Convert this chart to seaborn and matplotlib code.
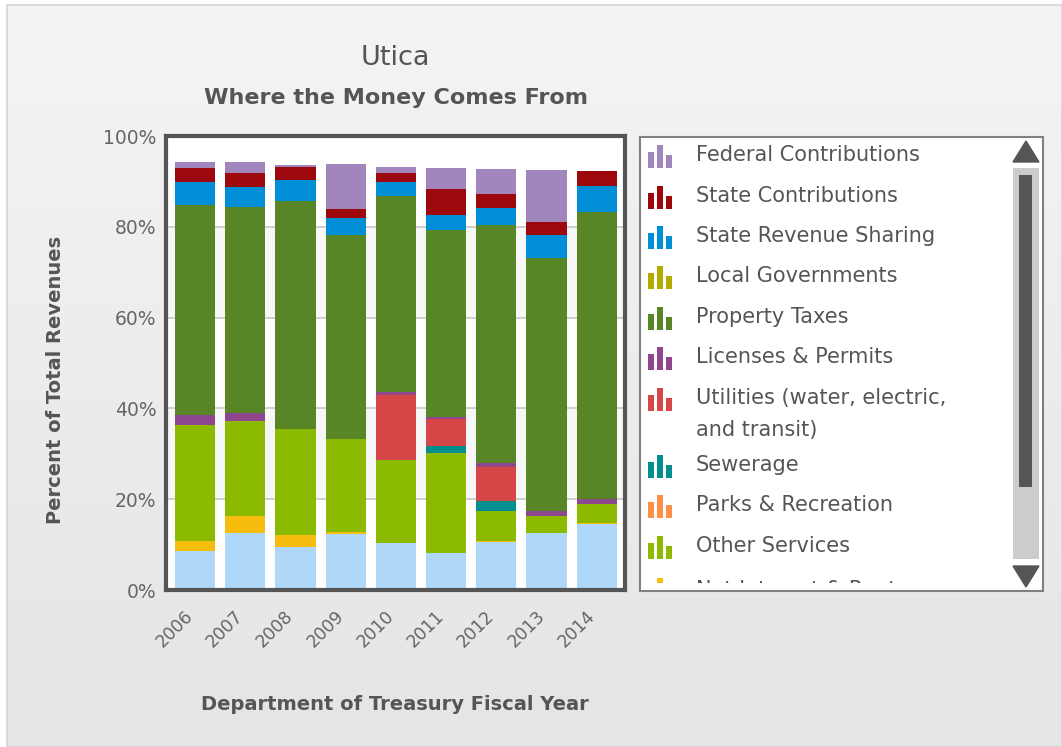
import numpy as np
import pandas as pd
import matplotlib
matplotlib.use("Agg")
import matplotlib.pyplot as plt
import matplotlib.transforms as mtransforms
import seaborn as sns
from matplotlib.patches import Rectangle, Polygon

W, H = 1062, 747

# ---- data (percent of total revenues) ----
years = [2006, 2007, 2008, 2009, 2010, 2011, 2012, 2013, 2014]

categories = [
    "Federal Contributions",
    "State Contributions",
    "State Revenue Sharing",
    "Local Governments",
    "Property Taxes",
    "Licenses & Permits",
    "Utilities (water, electric, and transit)",
    "Sewerage",
    "Parks & Recreation",
    "Other Services",
    "Net Interest & Rents",
    "Other Revenue",
]

federal = [1.4, 2.4, 0.5, 9.8, 1.3, 4.5, 5.6, 11.4, 0.0]
state_contrib = [3.0, 3.0, 2.9, 2.0, 2.1, 5.8, 3.0, 2.8, 3.3]
state_revenue = [5.0, 4.4, 4.6, 3.7, 3.0, 3.4, 3.9, 5.1, 5.7]
local_gov = [0.0, 0.0, 0.0, 0.0, 0.0, 0.0, 0.0, 0.0, 0.0]
property_tax = [46.3, 45.5, 50.3, 45.1, 43.1, 41.2, 52.4, 55.9, 63.3]
licenses = [2.2, 1.7, 0.0, 0.0, 0.7, 0.4, 0.9, 1.0, 1.1]
utilities = [0.0, 0.0, 0.0, 0.0, 14.3, 5.9, 7.4, 0.0, 0.0]
sewerage = [0.0, 0.0, 0.0, 0.0, 0.0, 1.6, 2.2, 0.0, 0.0]
parks = [0.0, 0.0, 0.0, 0.0, 0.0, 0.0, 0.0, 0.0, 0.0]
other_services = [25.6, 21.0, 23.3, 20.4, 18.4, 21.9, 6.6, 3.8, 4.1]
net_interest = [2.3, 3.6, 2.6, 0.5, 0.0, 0.0, 0.2, 0.0, 0.2]
other_revenue = [8.5, 12.6, 9.5, 12.3, 10.3, 8.2, 10.6, 12.5, 14.6]

series = [federal, state_contrib, state_revenue, local_gov, property_tax,
          licenses, utilities, sewerage, parks, other_services,
          net_interest, other_revenue]

colors = ["#A186BE", "#9D080D", "#008ED6", "#B3AA00", "#588526", "#8E468E",
          "#D64646", "#008E8E", "#FF8E46", "#8BBA00", "#F6BD0F", "#AFD8F8"]
palette = dict(zip(categories, colors))

y_ticks = [0, 20, 40, 60, 80, 100]

rows = []
for cat, vals in zip(categories, series):
    for yr, v in zip(years, vals):
        rows.append({"year": yr, "category": cat, "pct": v})
df = pd.DataFrame(rows)

TXT = "#555555"


def px_rect(x0, y0, x1, y1):
    return [x0 / W, 1 - y1 / H, (x1 - x0) / W, (y1 - y0) / H]


sns.set_theme(style="white")
plt.rcParams["font.family"] = ["DejaVu Sans"]

fig = plt.figure(figsize=(W / 100, H / 100), dpi=100)
fig.patch.set_facecolor("white")

# background gradient panel
bg = fig.add_axes([0, 0, 1, 1], zorder=-10)
bg.set_xlim(0, W)
bg.set_ylim(H, 0)
bg.axis("off")
grad = np.linspace(0.957, 0.898, 256).reshape(-1, 1)
bg.imshow(np.dstack([grad, grad, grad]), extent=(7, W, H, 5), aspect="auto")
bg.add_patch(Rectangle((7, 5), W - 7, H - 5, fill=False, edgecolor="#D4D4D4", lw=1.2))

# ---- chart ----
ax = fig.add_axes(px_rect(166, 136, 625, 590))
ax.set_facecolor("white")
for lo, hi in [(20, 40), (60, 80)]:
    ax.axhspan(lo, hi, color="#F7F7F7", zorder=0, lw=0)
for g in [20, 40, 60, 80]:
    ax.axhline(g, color="#CCCCCC", lw=1.3, zorder=0.5)

sns.histplot(data=df, x="year", weights="pct", hue="category",
             hue_order=categories, palette=palette, multiple="stack",
             discrete=True, shrink=0.8, alpha=1, linewidth=0,
             legend=False, ax=ax)

ax.set_xlim(2006 - 0.578, 2014 + 0.564)
ax.set_ylim(0, 100)
ax.set_xticks(years)
ax.set_xticklabels([str(y) for y in years], rotation=45, ha="right",
                   rotation_mode="anchor", fontsize=12.5, color="#666666")
ax.set_yticks(y_ticks)
ax.set_yticklabels([f"{t}%" for t in y_ticks], fontsize=13.5, color="#666666")
ax.tick_params(length=0, pad=7)
ax.tick_params(axis="x", pad=11)
shift = mtransforms.ScaledTranslation(-11 / 100, -2 / 100, fig.dpi_scale_trans)
for lbl in ax.get_xticklabels():
    lbl.set_transform(lbl.get_transform() + shift)
ax.set_xlabel("")
ax.set_ylabel("")
for s in ax.spines.values():
    s.set_visible(True)
    s.set_color("#555555")
    s.set_linewidth(3)

# ---- overlay: titles, axis labels, legend ----
ov = fig.add_axes([0, 0, 1, 1], zorder=5)
ov.set_xlim(0, W)
ov.set_ylim(H, 0)
ov.axis("off")
ov.patch.set_alpha(0)

ov.text(395, 58, "Utica", ha="center", va="center", fontsize=19.5, color=TXT)
ov.text(396, 98, "Where the Money Comes From", ha="center", va="center",
        fontsize=16, fontweight="bold", color=TXT)
ov.text(56, 380, "Percent of Total Revenues", ha="center", va="center",
        rotation=90, fontsize=14, fontweight="bold", color=TXT)
ov.text(395, 704, "Department of Treasury Fiscal Year", ha="center",
        va="center", fontsize=14, fontweight="bold", color=TXT)

# legend box (scrolled list, last entry cut off)
ov.add_patch(Rectangle((640, 137), 403, 454, facecolor="white",
                       edgecolor="#808080", lw=1.5))
clip = Rectangle((641, 138), 370, 445, transform=ov.transData)

leg_rows = [
    ("Federal Contributions", 155),
    ("State Contributions", 196),
    ("State Revenue Sharing", 236),
    ("Local Governments", 276),
    ("Property Taxes", 317),
    ("Licenses & Permits", 357),
    ("Utilities (water, electric,", 398),
    ("Sewerage", 465),
    ("Parks & Recreation", 505),
    ("Other Services", 546),
    ("Net Interest & Rents", 588),
]
for (label, yc), col in zip(leg_rows, colors):
    base = yc + 13
    for bx, bw, bh in [(648, 6, 16), (657, 6, 23), (666, 6, 13)]:
        r = Rectangle((bx, base - bh), bw, bh, facecolor=col, lw=0)
        ov.add_patch(r)
        r.set_clip_path(clip)
    ty = yc + 2 if yc > 580 else yc
    t = ov.text(696, ty, label, ha="left", va="center", fontsize=15,
                color=TXT)
    t.set_clip_on(True)
    t.set_clip_path(clip)
ov.text(696, 430, "and transit)", ha="left", va="center", fontsize=15,
        color=TXT)

# scrollbar
ov.add_patch(Polygon([(1013, 162), (1039, 162), (1026, 141)], color="#555555"))
ov.add_patch(Rectangle((1013, 168), 26, 391, facecolor="#CCCCCC", lw=0))
ov.add_patch(Rectangle((1019, 175), 13, 312, facecolor="#555555", lw=0))
ov.add_patch(Polygon([(1013, 566), (1039, 566), (1026, 587)], color="#555555"))

fig.savefig("out.png", dpi=100)
